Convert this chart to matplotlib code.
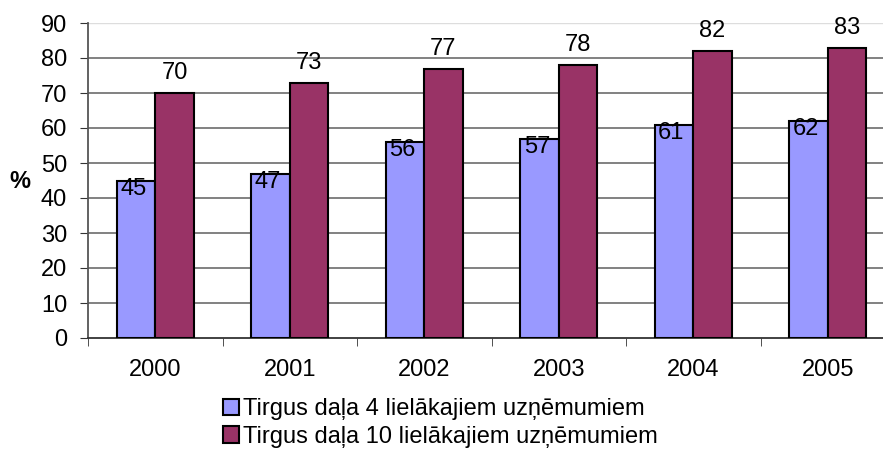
import numpy as np
import matplotlib.pyplot as plt

years = ["2000", "2001", "2002", "2003", "2004", "2005"]
top4 = [45, 47, 56, 57, 61, 62]
top10 = [70, 73, 77, 78, 82, 83]
names = ["Tirgus daļa 4 lielākajiem uzņēmumiem",
         "Tirgus daļa 10 lielākajiem uzņēmumiem"]

plt.rcParams['font.family'] = ['Liberation Sans', 'DejaVu Sans']
plt.rcParams['font.size'] = 17

fig = plt.figure(figsize=(8.83, 4.5), dpi=100)
# plot area runs slightly past the right edge, like the original
ax = fig.add_axes([88/883, (450-338)/450, 807/883, 315/450])

x = np.arange(len(years))
w = 0.286
b1 = ax.bar(x - w/2, top4, w, color="#9999FF", edgecolor="black", linewidth=1.5, zorder=3, label=names[0])
b2 = ax.bar(x + w/2, top10, w, color="#993366", edgecolor="black", linewidth=1.5, zorder=3, label=names[1])

for xi, v in zip(x, top4):
    ax.text(xi - w/2 - 0.02, v - 2.3, str(v), ha="center", va="center", zorder=4)
for xi, v in zip(x, top10):
    ax.text(xi + w/2, v + 5.7, str(v), ha="center", va="center", zorder=4)

ax.set_xlim(-0.5, len(years) - 0.5)
ax.set_ylim(0, 90)
ax.set_yticks(range(0, 91, 10))
ax.set_xticks(x)
ax.set_xticklabels(years)
ax.set_xticks(np.arange(-0.5, len(years), 1), minor=True)
ax.tick_params(axis="x", which="major", length=0, pad=15)
ax.tick_params(axis="x", which="minor", length=6, color="#333333", direction="out")
ax.tick_params(axis="y", length=6, color="#333333", direction="out", pad=9)

for g in range(10, 81, 10):
    ax.axhline(g, color="#777777", linewidth=1.3, zorder=1)
ax.axhline(90, color="#dddddd", linewidth=1, zorder=1)

for s in ["top", "right"]:
    ax.spines[s].set_visible(False)
ax.spines["left"].set_color("#555555")
ax.spines["left"].set_linewidth(1.3)
ax.spines["bottom"].set_color("#333333")
ax.spines["bottom"].set_linewidth(1.3)

fig.text(20/883, 1 - 181/450, "%", fontweight="bold", ha="center", va="center")

fig.legend(handles=[b1, b2], loc="center", bbox_to_anchor=(440/883, 1 - 423/450),
           ncol=1, frameon=False, handlelength=0.7, handleheight=0.7,
           handletextpad=0.15, labelspacing=0.25, borderpad=0)

fig.savefig("out.png", dpi=100)
